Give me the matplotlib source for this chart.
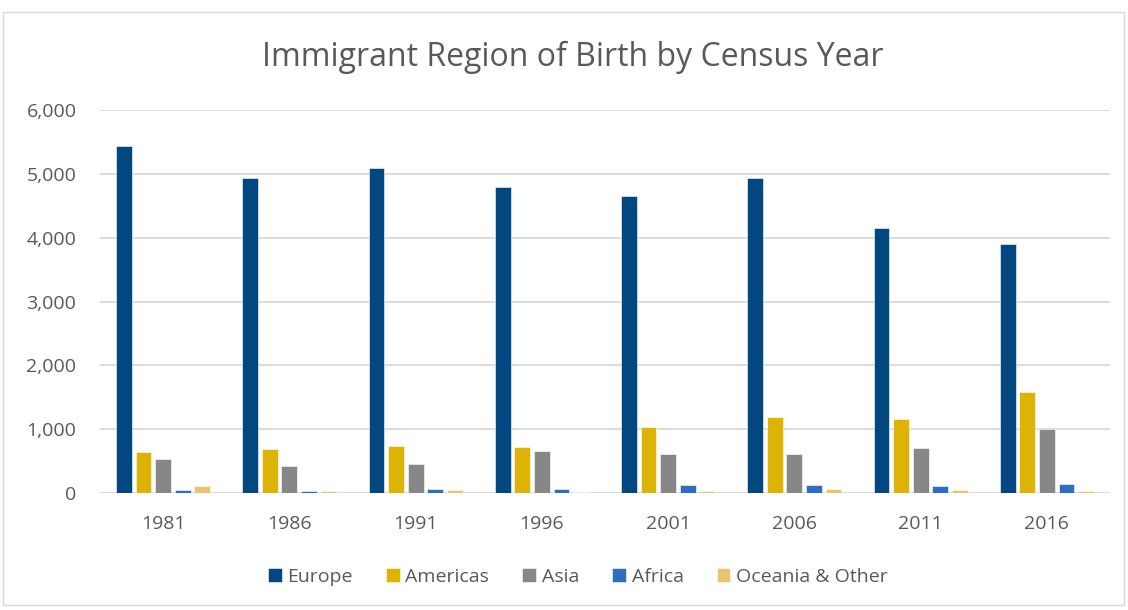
import matplotlib
matplotlib.use("Agg")
import matplotlib.pyplot as plt
import numpy as np
from matplotlib.patches import Rectangle

years = ["1981", "1986", "1991", "1996", "2001", "2006", "2011", "2016"]
europe = [5440, 4935, 5095, 4790, 4660, 4930, 4145, 3900]
americas = [635, 695, 735, 720, 1030, 1190, 1160, 1575]
asia = [540, 425, 460, 660, 610, 615, 700, 1005]
africa = [45, 30, 60, 60, 120, 120, 110, 145]
oceania = [110, 30, 50, 15, 28, 60, 45, 35]

series_names = ["Europe", "Americas", "Asia", "Africa", "Oceania & Other"]
series_values = [europe, americas, asia, africa, oceania]
colors = ["#02477F", "#DDB305", "#878787", "#2E6EBF", "#E9C46C"]

plt.rcParams['font.family'] = ['Open Sans', 'DejaVu Sans']

fig = plt.figure(figsize=(11.28, 6.10), dpi=100)
fig.patches.append(Rectangle((3/1128, 5/610), 1121/1128, (598-5)/610,
                             transform=fig.transFigure, fill=False,
                             edgecolor="#D9D9D9", linewidth=1.0))

ax = fig.add_axes([100/1128, 1-493/610, 1010/1128, 383/610])
x = np.arange(len(years))
step = 0.155
width = 0.125
for i, (name, vals, c) in enumerate(zip(series_names, series_values, colors)):
    ax.bar(x + (i - 2) * step, vals, width, color=c, label=name,
           edgecolor="white", linewidth=0.4, zorder=3)

ax.set_xlim(-0.5, len(years) - 0.5)
ax.set_ylim(0, 6000)
ax.set_yticks(range(0, 6001, 1000))
ax.set_yticklabels([f"{v:,}" for v in range(0, 6001, 1000)])
ax.set_xticks(x)
ax.set_xticklabels(years)
ax.yaxis.grid(True, color="#D9D9D9", linewidth=1.3, zorder=0)
ax.set_axisbelow(True)
for s in ax.spines.values():
    s.set_visible(False)
ax.tick_params(axis="both", length=0, labelsize=14, colors="#595959")
ax.tick_params(axis="y", pad=17)
ax.tick_params(axis="x", pad=16)

fig.text(573/1128, 1-57/610, "Immigrant Region of Birth by Census Year",
         ha="center", va="center", fontsize=23, color="#595959")

fig.legend(loc="center", bbox_to_anchor=(578/1128, 1-577/610), ncol=5, frameon=False,
           fontsize=14, handlelength=0.7, handleheight=0.7, handletextpad=0.3,
           columnspacing=1.7, labelcolor="#595959")

fig.savefig("out.png", dpi=100)
